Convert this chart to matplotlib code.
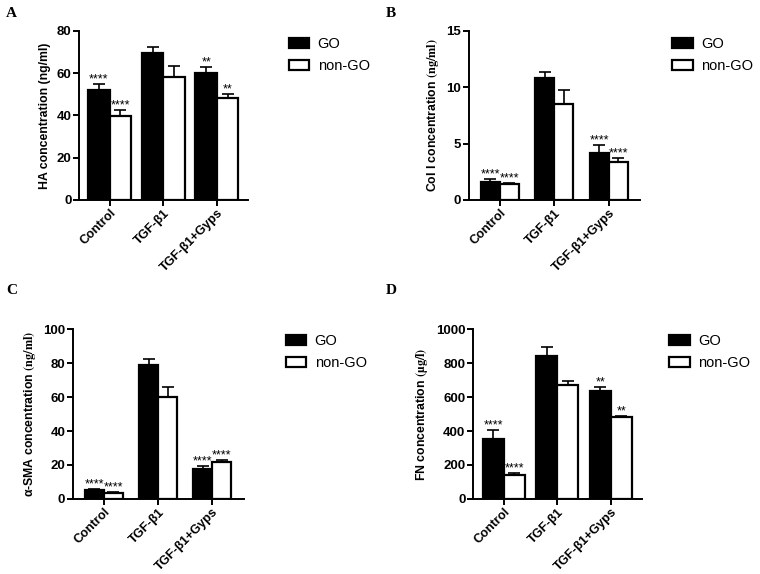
import matplotlib
matplotlib.use('Agg')
import matplotlib.pyplot as plt
import numpy as np

plt.rcParams['font.family'] = ['Liberation Sans', 'DejaVu Sans']
plt.rcParams['mathtext.fontset'] = 'stix'

groups = ['Control', 'TGF-β1', 'TGF-β1+Gyps']
series = ['GO', 'non-GO']

ha_go = [52.1, 69.4, 60.0]
ha_go_err = [2.6, 2.8, 2.8]
ha_non = [39.8, 58.4, 48.1]
ha_non_err = [2.8, 5.2, 2.1]
ha_stars_go = ['****', '', '**']
ha_stars_non = ['****', '', '**']

col_go = [1.63, 10.8, 4.2]
col_go_err = [0.2, 0.6, 0.7]
col_non = [1.39, 8.5, 3.4]
col_non_err = [0.15, 1.26, 0.33]
col_stars_go = ['****', '', '****']
col_stars_non = ['****', '', '****']

sma_go = [5.3, 78.8, 17.5]
sma_go_err = [0.5, 3.7, 1.9]
sma_non = [3.6, 59.8, 21.6]
sma_non_err = [0.4, 5.9, 1.5]
sma_stars_go = ['****', '', '****']
sma_stars_non = ['****', '', '****']

fn_go = [355, 841, 634]
fn_go_err = [51, 55, 27]
fn_non = [143, 669, 485]
fn_non_err = [8, 27, 6]
fn_stars_go = ['****', '', '**']
fn_stars_non = ['****', '', '**']

fig = plt.figure(figsize=(7.6, 5.74), dpi=100)


def panel(rect, letter, letter_pos, ylabel, ymax, ystep, go, go_err, non, non_err,
          stars_go, stars_non, legend_pos, width=0.38):
    ax = fig.add_axes(rect)
    x = np.arange(len(groups))
    ax.bar(x - width / 2, go, width, color='black', edgecolor='black', linewidth=1.6,
           label=series[0], zorder=2)
    ax.bar(x + width / 2, non, width, color='white', edgecolor='black', linewidth=1.6,
           label=series[1], zorder=2)
    ax.errorbar(x - width / 2, go, yerr=[[0] * 3, go_err], fmt='none', ecolor='black',
                elinewidth=1.2, capsize=4.5, capthick=1.2, zorder=1)
    ax.errorbar(x + width / 2, non, yerr=[[0] * 3, non_err], fmt='none', ecolor='black',
                elinewidth=1.2, capsize=4.5, capthick=1.2, zorder=1)
    for xi, v, e, s in zip(x - width / 2, go, go_err, stars_go):
        if s:
            ax.annotate(s, (xi, v + e), xytext=(0, -1), textcoords='offset points',
                        ha='center', va='bottom', fontsize=9)
    for xi, v, e, s in zip(x + width / 2, non, non_err, stars_non):
        if s:
            ax.annotate(s, (xi, v + e), xytext=(0, -1), textcoords='offset points',
                        ha='center', va='bottom', fontsize=9)

    ax.set_xlim(-0.57, 2.58)
    ax.set_ylim(0, ymax)
    ax.set_yticks(np.arange(0, ymax + 1, ystep))
    ax.set_xticks(x)
    ax.set_xticklabels(groups, rotation=45, ha='right', rotation_mode='anchor',
                       fontweight='bold', fontsize=9.1)
    for lbl in ax.get_yticklabels():
        lbl.set_fontweight('bold')
        lbl.set_fontsize(9.5)
    ax.set_ylabel(ylabel, fontweight='bold', fontsize=8.8)
    for side in ['top', 'right']:
        ax.spines[side].set_visible(False)
    for side in ['left', 'bottom']:
        ax.spines[side].set_linewidth(1.4)
    ax.tick_params(axis='both', width=1.4, length=4, pad=1.5)
    ax.tick_params(axis='x', pad=1)
    ax.legend(loc='upper left', bbox_to_anchor=legend_pos, bbox_transform=fig.transFigure,
              frameon=False, fontsize=10.5, handlelength=1.4, handleheight=0.7,
              labelspacing=0.55, handletextpad=0.6, borderaxespad=0)
    fig.text(letter_pos[0], letter_pos[1], letter, fontsize=11, fontweight='bold',
             family='Liberation Serif', va='top', ha='left')
    return ax


panel([0.104, 0.6516, 0.2224, 0.2944], 'A', (0.008, 0.988), 'HA concentration (ng/ml)',
      80, 20, ha_go, ha_go_err, ha_non, ha_non_err, ha_stars_go, ha_stars_non,
      (0.372, 0.945), width=0.40)
panel([0.6171, 0.6516, 0.225, 0.2944], 'B', (0.507, 0.988),
      r'Col I concentration $\mathbf{(ng/ml)}$',
      15, 5, col_go, col_go_err, col_non, col_non_err, col_stars_go, col_stars_non,
      (0.877, 0.945), width=0.35)
panel([0.096, 0.1307, 0.225, 0.296], 'C', (0.008, 0.505),
      r'α-SMA concentration $\mathbf{(ng/ml)}$',
      100, 20, sma_go, sma_go_err, sma_non, sma_non_err, sma_stars_go, sma_stars_non,
      (0.368, 0.428), width=0.35)
panel([0.6224, 0.1307, 0.2224, 0.296], 'D', (0.507, 0.505),
      r'FN concentration $\mathbf{(µg/l)}$',
      1000, 200, fn_go, fn_go_err, fn_non, fn_non_err, fn_stars_go, fn_stars_non,
      (0.873, 0.428), width=0.39)

fig.savefig('out.png', dpi=100)
